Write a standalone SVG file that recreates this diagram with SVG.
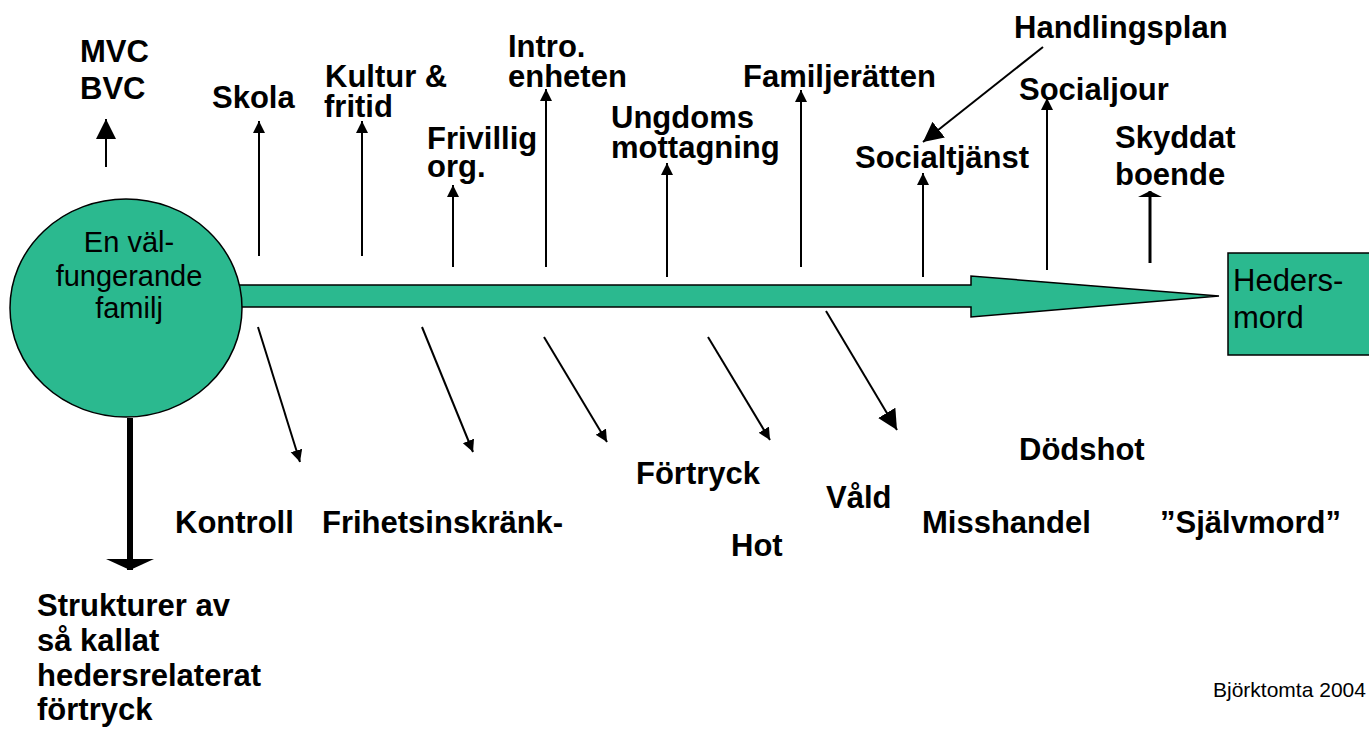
<svg xmlns="http://www.w3.org/2000/svg" width="1369" height="729" viewBox="0 0 1369 729">
<style>
.lbl{font-family:"Liberation Sans",Arial,sans-serif;font-weight:bold;font-size:31px;fill:#000}
.nrm{font-family:"Liberation Sans",Arial,sans-serif;font-size:29px;fill:#000}
.big{font-size:31px}
.ln{stroke:#000;stroke-width:2;fill:none}
.shape{fill:#2BB98F;stroke:#000;stroke-width:1.5}
</style>
<defs>
<marker id="hs" markerUnits="userSpaceOnUse" markerWidth="14" markerHeight="14" refX="12" refY="6" orient="auto"><path d="M0,0 L12,6 L0,12 z" fill="#000"/></marker>
<marker id="hl" markerUnits="userSpaceOnUse" markerWidth="22" markerHeight="22" refX="20" refY="10" orient="auto"><path d="M0,0 L20,10 L0,20 z" fill="#000"/></marker>
<marker id="hf" markerUnits="userSpaceOnUse" markerWidth="10" markerHeight="28" refX="6" refY="12" orient="auto"><path d="M0,0 L6,12 L0,24 z" fill="#000"/></marker>
<marker id="hw" markerUnits="userSpaceOnUse" markerWidth="14" markerHeight="52" refX="11" refY="24" orient="auto"><path d="M0,0 L11,24 L0,48 z" fill="#000"/></marker>
</defs>
<rect width="1369" height="729" fill="#fff"/>
<g id="connectors">
<line class="ln" x1="106" y1="167" x2="106" y2="119" marker-end="url(#hl)"/>
<line class="ln" x1="259" y1="256" x2="259" y2="121" marker-end="url(#hs)"/>
<line class="ln" x1="362" y1="256" x2="362" y2="121" marker-end="url(#hs)"/>
<line class="ln" x1="453" y1="267" x2="453" y2="185" marker-end="url(#hs)"/>
<line class="ln" x1="546" y1="267" x2="546" y2="89" marker-end="url(#hs)"/>
<line class="ln" x1="667" y1="277" x2="667" y2="163" marker-end="url(#hs)"/>
<line class="ln" x1="801" y1="267" x2="801" y2="90" marker-end="url(#hs)"/>
<line class="ln" x1="923" y1="277" x2="923" y2="173" marker-end="url(#hs)"/>
<line class="ln" x1="1047" y1="270" x2="1047" y2="98" marker-end="url(#hs)"/>
<line class="ln" x1="1150" y1="263" x2="1150" y2="191" style="stroke-width:3" marker-end="url(#hf)"/>
<line class="ln" x1="1043" y1="47" x2="923" y2="142" marker-end="url(#hl)"/>
<line class="ln" x1="258" y1="327" x2="300" y2="462" marker-end="url(#hs)"/>
<line class="ln" x1="422" y1="327" x2="473" y2="452" marker-end="url(#hs)"/>
<line class="ln" x1="544" y1="337" x2="607" y2="442" marker-end="url(#hs)"/>
<line class="ln" x1="708" y1="337" x2="770" y2="440" marker-end="url(#hs)"/>
<line class="ln" x1="826" y1="311" x2="897" y2="430" marker-end="url(#hl)"/>
<line class="ln" x1="130" y1="418" x2="130" y2="570" style="stroke-width:6" marker-end="url(#hw)"/>
</g>
<g id="main-arrow">
<path class="shape" d="M234,285 L971,285 L971,276 L1219,296 L971,317 L971,307 L234,307 z"/>
</g>
<g id="familj">
<ellipse class="shape" cx="126" cy="308" rx="116" ry="109"/>
<text class="nrm" text-anchor="middle"><tspan x="129" y="252">En väl-</tspan><tspan x="129" y="286">fungerande</tspan><tspan x="129" y="318">familj</tspan></text>
</g>
<g id="hedersmord">
<rect class="shape" x="1228" y="253" width="145" height="102"/>
<text class="nrm big"><tspan x="1233" y="291">Heders-</tspan><tspan x="1233" y="328">mord</tspan></text>
</g>
<g id="mvc"><text class="lbl"><tspan x="80" y="62">MVC</tspan><tspan x="80" y="99">BVC</tspan></text></g>
<g id="skola"><text class="lbl" x="212" y="108">Skola</text></g>
<g id="kultur"><text class="lbl"><tspan x="325" y="87">Kultur &amp;</tspan><tspan x="324" y="117">fritid</tspan></text></g>
<g id="frivillig"><text class="lbl"><tspan x="427" y="149">Frivillig</tspan><tspan x="427" y="177">org.</tspan></text></g>
<g id="intro"><text class="lbl"><tspan x="508" y="57">Intro.</tspan><tspan x="508" y="87">enheten</tspan></text></g>
<g id="ungdoms"><text class="lbl"><tspan x="611" y="128">Ungdoms</tspan><tspan x="611" y="158">mottagning</tspan></text></g>
<g id="familjeratten"><text class="lbl" x="743" y="87">Familjerätten</text></g>
<g id="handlingsplan"><text class="lbl" x="1014" y="38">Handlingsplan</text></g>
<g id="socialjour"><text class="lbl" x="1019" y="100">Socialjour</text></g>
<g id="socialtjanst"><text class="lbl" x="855" y="168">Socialtjänst</text></g>
<g id="skyddat"><text class="lbl"><tspan x="1115" y="148">Skyddat</tspan><tspan x="1115" y="185">boende</tspan></text></g>
<g id="kontroll"><text class="lbl" x="175" y="533">Kontroll</text></g>
<g id="frihet"><text class="lbl" x="322" y="533">Frihetsinskränk-</text></g>
<g id="fortryck"><text class="lbl" x="636" y="484">Förtryck</text></g>
<g id="hot"><text class="lbl" x="731" y="556">Hot</text></g>
<g id="vald"><text class="lbl" x="826" y="508">Våld</text></g>
<g id="misshandel"><text class="lbl" x="922" y="533">Misshandel</text></g>
<g id="dodshot"><text class="lbl" x="1019" y="460">Dödshot</text></g>
<g id="sjalvmord"><text class="lbl" x="1160" y="533">”Självmord”</text></g>
<g id="strukturer">
<text class="lbl"><tspan x="37" y="616">Strukturer av</tspan><tspan x="37" y="651">så kallat</tspan><tspan x="37" y="686">hedersrelaterat</tspan><tspan x="37" y="720">förtryck</tspan></text>
</g>
<g id="credit"><text x="1213" y="697" style="font-family:'Liberation Sans',Arial,sans-serif;font-size:21px;fill:#000">Björktomta 2004</text></g>
</svg>
